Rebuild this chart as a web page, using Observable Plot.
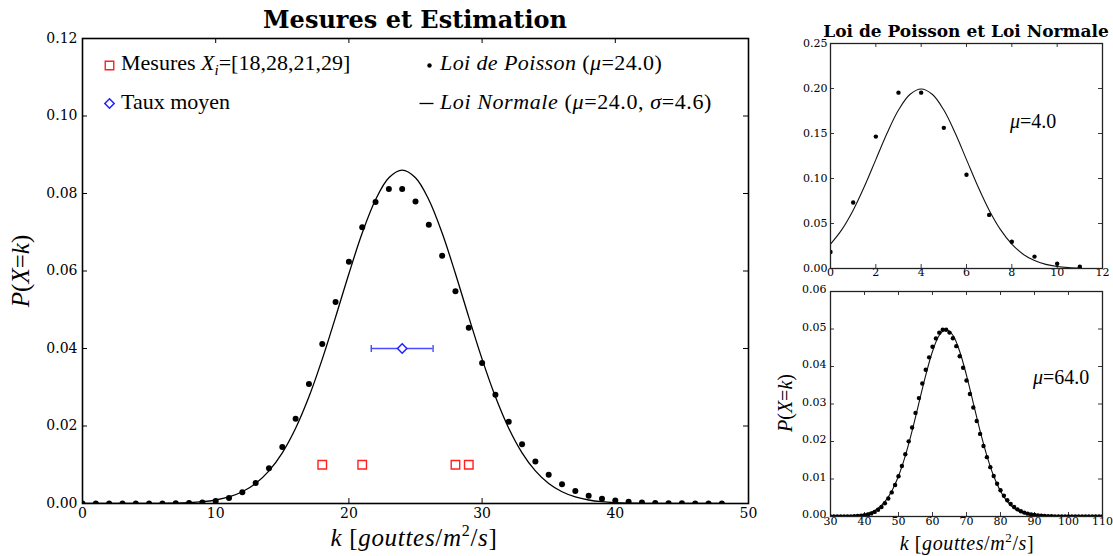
<!DOCTYPE html>
<html>
<head>
<meta charset="utf-8">
<script src="https://cdn.jsdelivr.net/npm/d3@7"></script>
<script src="https://cdn.jsdelivr.net/npm/@observablehq/plot@0.6"></script>
<style>
  html, body { margin: 0; padding: 0; background: #fff; }
  #fig { position: relative; width: 1113px; height: 556px; overflow: hidden; background: #fff; }
  #fig svg text { font-family: "DejaVu Serif", serif; }
  #fig svg.ov text { font-family: "Liberation Serif", "DejaVu Serif", serif; }
  #fig svg.ov tspan.i { font-family: "Liberation Serif", serif; font-style: italic; }
  #fig svg.ov text.ttl { font-family: "DejaVu Serif", serif; font-weight: bold; }
</style>
</head>
<body>
<div id="fig"></div>
<script>
// ---------------- DATA ----------------
// Main panel: Poisson (mu = 24) read at k = 0..48
const k24 = [0,1,2,3,4,5,6,7,8,9,10,11,12,13,14,15,16,17,18,19,20,21,22,23,24,25,26,27,28,29,30,31,32,33,34,35,36,37,38,39,40,41,42,43,44,45,46,47,48];
const p24 = [0.00000000004,0.0000000009,0.000000011,0.000000087,0.00000052,0.0000025,0.0000100,0.0000344,0.000103,0.000275,0.000660,0.001439,0.002879,0.005315,0.009111,0.01458,0.02187,0.03087,0.04116,0.05199,0.06239,0.07130,0.07778,0.08116,0.08116,0.07791,0.07192,0.06393,0.05480,0.04535,0.03628,0.02809,0.02107,0.01532,0.01081,0.007415,0.004943,0.003207,0.002025,0.001246,0.000748,0.000438,0.000250,0.000140,0.0000762,0.0000406,0.0000212,0.0000108,0.0000054];
// Main panel: normal curve (mu = 24, sigma = 4.6)
const kN24 = [0,1,2,3,4,5,6,7,8,9,10,11,12,13,14,15,16,17,18,19,20,21,22,23,24,25,26,27,28,29,30,31,32,33,34,35,36,37,38,39,40,41,42,43,44,45,46,47,48];
const pN24 = [0.00000013,0.00000039,0.0000011,0.0000030,0.0000078,0.0000194,0.0000459,0.000104,0.000223,0.000459,0.000902,0.001690,0.003022,0.005160,0.008408,0.01308,0.01942,0.02753,0.03725,0.04811,0.05930,0.06979,0.07839,0.08406,0.08604,0.08406,0.07839,0.06979,0.05930,0.04811,0.03725,0.02753,0.01942,0.01308,0.008408,0.005160,0.003022,0.001690,0.000902,0.000459,0.000223,0.000104,0.0000459,0.0000194,0.0000078,0.0000030,0.0000011,0.00000039,0.00000013];
// Measurements and mean rate
const mesures = [18, 28, 21, 29];
const mesuresP = 0.01;
const tauxMoyen = 24.0;
const tauxP = 0.04;
const tauxErr = 2.32;
const mu24 = "24.0", sigma24 = "4.6";

// Top-right: mu = 4
const k4 = [0,1,2,3,4,5,6,7,8,9,10,11];
const p4 = [0.01832,0.07326,0.14653,0.19537,0.19537,0.15629,0.10420,0.05954,0.02977,0.01323,0.00529,0.00193];
const kN4 = [0,0.5,1,1.5,2,2.5,3,3.5,4,4.5,5,5.5,6,6.5,7,7.5,8,8.5,9,9.5,10,10.5,11];
const pN4 = [0.02700,0.04314,0.06476,0.09132,0.12099,0.15057,0.17603,0.19333,0.19947,0.19333,0.17603,0.15057,0.12099,0.09132,0.06476,0.04314,0.02700,0.01587,0.00876,0.00455,0.00222,0.00102,0.00044];

// Bottom-right: mu = 64
const k64 = [30,31,32,33,34,35,36,37,38,39,40,41,42,43,44,45,46,47,48,49,50,51,52,53,54,55,56,57,58,59,60,61,62,63,64,65,66,67,68,69,70,71,72,73,74,75,76,77,78,79,80,81,82,83,84,85,86,87,88,89,90,91,92,93,94,95,96,97,98,99,100,101,102,103,104,105,106,107,108,109,110];
const p64 = [0.0000009,0.0000019,0.0000038,0.0000074,0.0000140,0.0000256,0.0000454,0.0000786,0.000132,0.000217,0.000347,0.000542,0.000826,0.001230,0.001789,0.002544,0.003539,0.004819,0.006425,0.008392,0.010742,0.013480,0.016591,0.020034,0.023744,0.027629,0.031576,0.035454,0.039122,0.042438,0.045267,0.047493,0.049025,0.049803,0.049803,0.049037,0.047551,0.045422,0.042750,0.039652,0.036253,0.032679,0.029048,0.025467,0.022025,0.018795,0.015827,0.013155,0.010794,0.008745,0.006996,0.005528,0.004314,0.003327,0.002535,0.001908,0.001420,0.001045,0.000760,0.000546,0.000389,0.000273,0.000190,0.000131,0.0000892,0.0000601,0.0000401,0.0000264,0.0000173,0.0000112,0.0000071,0.0000045,0.0000028,0.0000018,0.0000011,0.00000067,0.0000004,0.00000024,0.00000014,0.00000008,0.00000005];
const kN64 = [30,32,34,36,38,40,42,44,46,48,50,52,54,56,58,60,62,64,66,68,70,72,74,76,78,80,82,84,86,88,90,92,94,96,98,100,102,104,106,108,110];
const pN64 = [0.0000060,0.0000167,0.0000441,0.000109,0.000254,0.000554,0.001137,0.002191,0.003967,0.006749,0.010785,0.016190,0.022831,0.030246,0.037642,0.044008,0.048334,0.049868,0.048334,0.044008,0.037642,0.030246,0.022831,0.016190,0.010785,0.006749,0.003967,0.002191,0.001137,0.000554,0.000254,0.000109,0.0000441,0.0000167,0.0000060,0.0000020,0.00000063,0.00000019,0.00000005,0.00000001,0.000000003];

// Tick values
const mainXTicks = [0,10,20,30,40,50];
const mainYTicks = [0,0.02,0.04,0.06,0.08,0.10,0.12];
const trXTicks = [0,2,4,6,8,10,12];
const trYTicks = [0,0.05,0.10,0.15,0.20,0.25];
const brXTicks = [30,40,50,60,70,80,90,100,110];
const brYTicks = [0,0.01,0.02,0.03,0.04,0.05,0.06];

// ---------------- HELPERS ----------------
const zipKP = (ks, ps) => ks.map((k, i) => ({k, p: ps[i]}));
const vbar = {draw(ctx, size) { const r = Math.sqrt(size / Math.PI); ctx.moveTo(0, -r); ctx.lineTo(0, r); }};
const hbar = {draw(ctx, size) { const r = Math.sqrt(size / Math.PI); ctx.moveTo(-r, 0); ctx.lineTo(r, 0); }};

function innerTicks(xt, yt, W, H, len, color, sw) {
  return [
    Plot.tickX(xt, {x: d => d, insetTop: H - len, stroke: color, strokeWidth: sw}),
    Plot.tickX(xt, {x: d => d, insetBottom: H - len, stroke: color, strokeWidth: sw}),
    Plot.tickY(yt, {y: d => d, insetRight: W - len, stroke: color, strokeWidth: sw}),
    Plot.tickY(yt, {y: d => d, insetLeft: W - len, stroke: color, strokeWidth: sw})
  ];
}

const fig = document.getElementById("fig");
function place(el, left, top) {
  el.style.position = "absolute";
  el.style.left = left + "px";
  el.style.top = top + "px";
  el.style.maxWidth = "none";
  el.style.background = "transparent";
  el.style.overflow = "visible";
  el.style.fontFamily = "'DejaVu Serif', serif";
  fig.appendChild(el);
}
const f2 = d3.format(".2f");
const serif = "DejaVu Serif";

// ---------------- MAIN PANEL ----------------
{
  const width = 780, height = 556, ml = 82, mr = 32, mt = 38, mb = 53;
  const W = width - ml - mr, H = height - mt - mb;
  const svg = Plot.plot({
    width, height, marginLeft: ml, marginRight: mr, marginTop: mt, marginBottom: mb,
    style: "font-family: 'DejaVu Serif', serif; font-size: 14px; background: transparent; overflow: visible; color: black;",
    x: {domain: [0, 50], label: null},
    y: {domain: [0, 0.12], label: null},
    marks: [
      Plot.axisX({ticks: mainXTicks, tickSize: 0, tickPadding: 5, label: null, tickFormat: d => String(d), fontSize: 14, fontFamily: serif}),
      Plot.axisY({ticks: mainYTicks, tickSize: 0, tickPadding: 5, label: null, tickFormat: f2, fontSize: 14, fontFamily: serif}),
      ...innerTicks(mainXTicks, mainYTicks, W, H, 5, "black", 1),
      Plot.dot(mesures, {x: d => d, y: () => mesuresP, symbol: "square", r: 4.8, fill: "none", stroke: "#ff2020", strokeWidth: 1.4}),
      Plot.ruleY([tauxP], {y: d => d, x1: tauxMoyen - tauxErr, x2: tauxMoyen + tauxErr, stroke: "#4a4aff", strokeWidth: 1.4}),
      Plot.dot([tauxMoyen - tauxErr, tauxMoyen + tauxErr], {x: d => d, y: () => tauxP, symbol: vbar, r: 3.5, fill: "none", stroke: "#4a4aff", strokeWidth: 1.4}),
      Plot.dot([tauxMoyen], {x: d => d, y: () => tauxP, symbol: "diamond2", r: 4.2, fill: "white", stroke: "#2020ff", strokeWidth: 1.5}),
      Plot.line(zipKP(kN24, pN24), {x: "k", y: "p", curve: "catmull-rom", stroke: "black", strokeWidth: 1.3, clip: true}),
      Plot.dot(zipKP(k24, p24), {x: "k", y: "p", r: 3, fill: "black", clip: true}),
      // legend symbols
      Plot.dot([0], {frameAnchor: "top-left", dx: 27, dy: 27, symbol: "square", r: 4.8, fill: "none", stroke: "#ff2020", strokeWidth: 1.4}),
      Plot.dot([0], {frameAnchor: "top-left", dx: 27, dy: 65, symbol: "diamond2", r: 4.2, fill: "none", stroke: "#2020ff", strokeWidth: 1.5}),
      Plot.dot([0], {frameAnchor: "top-left", dx: 347, dy: 27, r: 2.2, fill: "black"}),
      Plot.dot([0], {frameAnchor: "top-left", dx: 344, dy: 65, symbol: hbar, r: 7, fill: "none", stroke: "black", strokeWidth: 1.3}),
      Plot.frame({stroke: "black", strokeWidth: 1.6})
    ]
  });
  place(svg, 0, 0);
}

// ---------------- TOP-RIGHT PANEL ----------------
{
  const width = 333, height = 290, ml = 50, mr = 11, mt = 43, mb = 22;
  const W = width - ml - mr, H = height - mt - mb;
  const svg = Plot.plot({
    width, height, marginLeft: ml, marginRight: mr, marginTop: mt, marginBottom: mb,
    style: "font-family: 'DejaVu Serif', serif; font-size: 11px; background: transparent; overflow: visible; color: black;",
    x: {domain: [0, 12], label: null},
    y: {domain: [0, 0.25], label: null},
    marks: [
      Plot.axisX({ticks: trXTicks, tickSize: 0, tickPadding: 0, label: null, tickFormat: d => String(d), fontSize: 11, fontFamily: serif}),
      Plot.axisY({ticks: trYTicks, tickSize: 0, tickPadding: 3, label: null, tickFormat: f2, fontSize: 11, fontFamily: serif}),
      ...innerTicks(trXTicks, trYTicks, W, H, 4, "#222", 0.9),
      Plot.line(zipKP(kN4, pN4), {x: "k", y: "p", curve: "catmull-rom", stroke: "#111", strokeWidth: 1.1, clip: true}),
      Plot.dot(zipKP(k4, p4), {x: "k", y: "p", r: 2.2, fill: "black", clip: true}),
      Plot.frame({stroke: "#222", strokeWidth: 1.3})
    ]
  });
  place(svg, 780, 0);
}

// ---------------- BOTTOM-RIGHT PANEL ----------------
{
  const width = 333, height = 276, ml = 50, mr = 11, mt = 11, mb = 40;
  const W = width - ml - mr, H = height - mt - mb;
  const svg = Plot.plot({
    width, height, marginLeft: ml, marginRight: mr, marginTop: mt, marginBottom: mb,
    style: "font-family: 'DejaVu Serif', serif; font-size: 11px; background: transparent; overflow: visible; color: black;",
    x: {domain: [30, 110], label: null},
    y: {domain: [0, 0.06], label: null},
    marks: [
      Plot.axisX({ticks: brXTicks, tickSize: 0, tickPadding: 1, label: null, tickFormat: d => String(d), fontSize: 11, fontFamily: serif}),
      Plot.axisY({ticks: brYTicks, tickSize: 0, tickPadding: 4, label: null, tickFormat: f2, fontSize: 11, fontFamily: serif, dy: -2}),
      ...innerTicks(brXTicks, brYTicks, W, H, 4, "#222", 0.9),
      Plot.line(zipKP(kN64, pN64), {x: "k", y: "p", curve: "catmull-rom", stroke: "#111", strokeWidth: 1.1, clip: true}),
      Plot.dot(zipKP(k64, p64), {x: "k", y: "p", r: 2.2, fill: "black", clip: true}),
      Plot.frame({stroke: "#222", strokeWidth: 1.3})
    ]
  });
  place(svg, 780, 280);
}

// ---------------- TEXT OVERLAY ----------------
const it = s => `<tspan class="i">${s}</tspan>`;
const ov = `
<svg class="ov" xmlns="http://www.w3.org/2000/svg" width="1113" height="556" style="position:absolute;left:0;top:0;pointer-events:none" fill="black">
  <text class="ttl" x="415" y="28" text-anchor="middle" font-size="24">Mesures et Estimation</text>
  <text class="ttl" x="966" y="37" text-anchor="middle" font-size="17">Loi de Poisson et Loi Normale</text>

  <text x="121" y="70" font-size="22">Mesures ${it("X")}<tspan class="i" font-size="15" dy="5">i</tspan><tspan dy="-5">=[${mesures.join(",")}]</tspan></text>
  <text x="121" y="109" font-size="22">Taux moyen</text>
  <text x="440" y="70" font-size="22" letter-spacing="0.4">${it("Loi de Poisson")} (${it("μ")}=${mu24})</text>
  <text x="440" y="109" font-size="22" letter-spacing="0.6">${it("Loi Normale")} (${it("μ")}=${mu24}, ${it("σ")}=${sigma24})</text>

  <text transform="translate(29,271) rotate(-90)" text-anchor="middle" font-size="25">${it("P")}(${it("X")}=${it("k")})</text>
  <text x="414" y="546" text-anchor="middle" font-size="25" letter-spacing="0.7">${it("k")} [${it("gouttes")}/${it("m")}<tspan font-size="16" dy="-10">2</tspan><tspan dy="10">/</tspan>${it("s")}]</text>

  <text x="1010" y="128" font-size="20">${it("μ")}=4.0</text>
  <text x="1033" y="384" font-size="20">${it("μ")}=64.0</text>

  <text transform="translate(792,403) rotate(-90)" text-anchor="middle" font-size="20">${it("P")}(${it("X")}=${it("k")})</text>
  <text x="967" y="550" text-anchor="middle" font-size="20" letter-spacing="0.6">${it("k")} [${it("gouttes")}/${it("m")}<tspan font-size="13" dy="-8">2</tspan><tspan dy="8">/</tspan>${it("s")}]</text>
</svg>`;
fig.insertAdjacentHTML("beforeend", ov);
</script>
</body>
</html>
